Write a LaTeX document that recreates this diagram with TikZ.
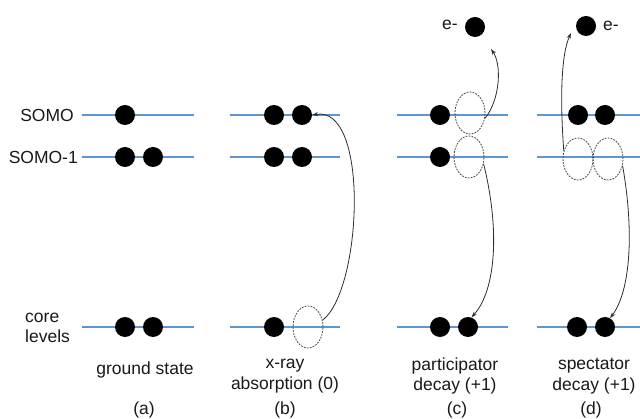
\documentclass[tikz,border=0pt]{standalone}
\usepackage{fontspec}
\setmainfont{Liberation Sans}
\usetikzlibrary{shapes.geometric,arrows.meta}
\definecolor{levelblue}{RGB}{95,150,210}
\definecolor{ringgray}{RGB}{70,70,70}
\definecolor{arrowgray}{RGB}{45,45,45}
\begin{document}
\begin{tikzpicture}[x=1pt,y=-1pt,
  level/.style={draw=levelblue,line width=1.5pt},
  electron/.style={circle,fill=black,minimum size=20pt,inner sep=0pt},
  hole/.style={ellipse,draw=ringgray,dash pattern=on 1.8pt off 1.2pt,line width=0.8pt,minimum width=30pt,minimum height=42pt,inner sep=0pt},
  trans/.style={draw=arrowgray,line width=0.8pt,-{Stealth[length=6pt,width=4pt]}},
  lbl/.style={font=\fontsize{17.5}{20.7}\selectfont,text=black!90,inner sep=0pt,align=center},
]
\useasboundingbox (0,0) rectangle (640,419);

% energy levels
\foreach \ya in {115,157,327}{
  \draw[level] (82,\ya) -- (194,\ya);
  \draw[level] (230,\ya) -- (340,\ya);
  \draw[level] (397,\ya) -- (508,\ya);
  \draw[level] (537,\ya) -- (640,\ya);
}

% level labels
\node[lbl,anchor=east] (lSOMO) at (74,115) {SOMO};
\node[lbl,anchor=east] (lSOMOm) at (78,157) {SOMO-1};
\node[lbl,anchor=west,align=left] (lcore) at (25,328) {core\\levels};

% (a) ground state
\node[electron] (aS1) at (125,115) {};
\node[electron] (aM1) at (125,157) {};
\node[electron] (aM2) at (153,157) {};
\node[electron] (aC1) at (125,327) {};
\node[electron] (aC2) at (153,327) {};

% (b) x-ray absorption
\node[electron] (bS1) at (274,115) {};
\node[electron] (bS2) at (302,115) {};
\node[electron] (bM1) at (274,157) {};
\node[electron] (bM2) at (302,157) {};
\node[electron] (bC1) at (274,327) {};
\node[hole] (bH) at (308,327) {};

% (c) participator decay
\node[electron] (cS1) at (440,115) {};
\node[hole] (cHS) at (470,113) {};
\node[electron] (cM1) at (440,157) {};
\node[hole] (cHM) at (469,157) {};
\node[electron] (cC1) at (440,327) {};
\node[electron] (cC2) at (468,327) {};
\node[electron] (cE) at (475,27) {};
\node[lbl,anchor=east] (cEl) at (458,25) {e-};

% (d) spectator decay
\node[electron] (dS1) at (578,115) {};
\node[electron] (dS2) at (605,115) {};
\node[hole] (dH1) at (578,159) {};
\node[hole] (dH2) at (608,159) {};
\node[electron] (dC1) at (577,327) {};
\node[electron] (dC2) at (605,327) {};
\node[electron] (dE) at (586,26) {};
\node[lbl,anchor=west] (dEl) at (603,26) {e-};

% transitions
\coordinate (cTip) at (491,49);
\coordinate (dTip) at (571,33);
\draw[trans] (bH.25) .. controls (362,290) and (370,105) .. (bS2.east);
\draw[trans] (cHS.-20) .. controls (500,100) and (502,65) .. (cTip);
\draw[trans] (cHM.-25) .. controls (500,230) and (496,290) .. (cC2.70);
\draw[trans] (dH1.150) .. controls (560,100) and (561,55) .. (dTip);
\draw[trans] (dH2.-25) .. controls (634,230) and (631,290) .. (dC2.60);

% captions
\node[lbl] (ta) at (145,370) {ground state};
\node[lbl] (tb) at (285,376) {x-ray\\absorption (0)};
\node[lbl] (tc) at (455,376) {participator\\decay (+1)};
\node[lbl] (td) at (594,376) {spectator\\decay (+1)};
\node[lbl] (ca) at (144,410) {(a)};
\node[lbl] (cb) at (285,410) {(b)};
\node[lbl] (cc) at (457,410) {(c)};
\node[lbl] (cd) at (591,410) {(d)};
\end{tikzpicture}
\end{document}
